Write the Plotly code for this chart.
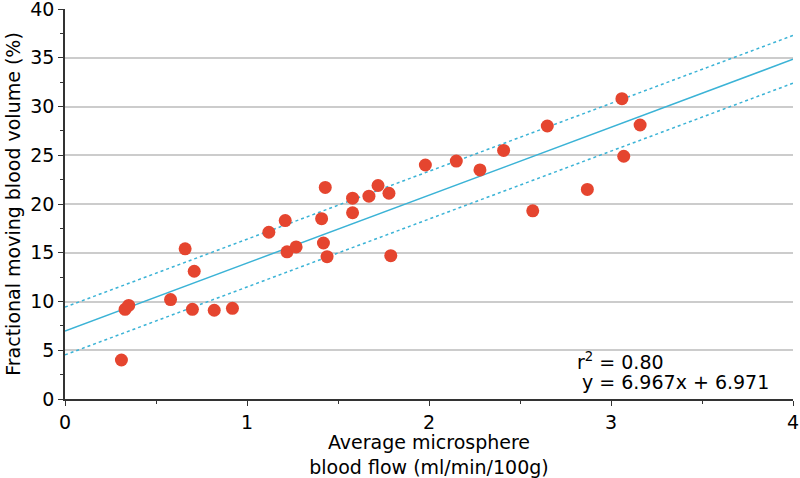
import plotly.graph_objects as go

# microsphere blood flow (ml/min/100g) vs fractional moving blood volume (%)
flow = [0.31, 0.33, 0.35, 0.58, 0.66, 0.71, 0.70, 0.82, 0.92,
        1.12, 1.21, 1.22, 1.27, 1.41, 1.42, 1.43, 1.44, 1.58, 1.58,
        1.67, 1.72, 1.78, 1.79, 1.98, 2.15, 2.28, 2.41, 2.57, 2.65,
        2.87, 3.06, 3.07, 3.16]
volume = [4.0, 9.2, 9.6, 10.2, 15.4, 13.1, 9.2, 9.1, 9.3,
          17.1, 18.3, 15.1, 15.6, 18.5, 16.0, 21.7, 14.6, 20.6, 19.1,
          20.8, 21.9, 21.1, 14.7, 24.0, 24.4, 23.5, 25.5, 19.3, 28.0,
          21.5, 30.8, 24.9, 28.1]

slope = 6.967
intercept = 6.971
band = 2.45
line_x = [0, 4]

fit_y = [slope * v + intercept for v in line_x]
upper_y = [y + band for y in fit_y]
lower_y = [y - band for y in fit_y]

font = dict(family="DejaVu Sans", size=19, color="black")
line_col = "#3bb3d6"
axis_col = "#333333"

fig = go.Figure()
fig.add_trace(go.Scatter(x=line_x, y=upper_y, mode="lines",
                         line=dict(color=line_col, width=1.5, dash="dot")))
fig.add_trace(go.Scatter(x=line_x, y=lower_y, mode="lines",
                         line=dict(color=line_col, width=1.5, dash="dot")))
fig.add_trace(go.Scatter(x=line_x, y=fit_y, mode="lines",
                         line=dict(color=line_col, width=1.5)))
fig.add_trace(go.Scatter(x=flow, y=volume, mode="markers",
                         marker=dict(color="#e5452f", size=13), cliponaxis=False))

fig.add_annotation(x=2.80, y=3.9, xref="x", yref="y", text="r<sup>2</sup> = 0.80",
                   showarrow=False, xanchor="left", yanchor="middle", font=font)
fig.add_annotation(x=2.83, y=1.7, xref="x", yref="y", text="y = 6.967x + 6.971",
                   showarrow=False, xanchor="left", yanchor="middle", font=font)

fig.update_layout(
    width=800, height=478,
    margin=dict(l=65, r=7, t=9, b=79),
    plot_bgcolor="white", paper_bgcolor="white",
    showlegend=False, font=font,
    xaxis=dict(range=[0, 4], dtick=1, showgrid=False, zeroline=False, automargin=False,
               showline=True, linecolor=axis_col, linewidth=1.5,
               ticks="outside", ticklen=5, tickcolor=axis_col, ticklabeloverflow="allow",
               tickfont=font,
               minor=dict(dtick=0.5, ticks="outside", ticklen=3, tickcolor=axis_col),
               title=dict(text="Average microsphere<br>blood flow (ml/min/100g)",
                          font=font, standoff=9)),
    yaxis=dict(range=[0, 40], dtick=5, showgrid=True, gridcolor="#cccccc", gridwidth=2,
               zeroline=False, showline=True, linecolor=axis_col, linewidth=1.5,
               automargin=False, ticklabeloverflow="allow",
               ticks="outside", ticklen=5, tickcolor=axis_col, tickfont=font,
               minor=dict(dtick=2.5, ticks="outside", ticklen=3, tickcolor=axis_col, showgrid=False),
               title=dict(text="Fractional moving blood volume (%)", font=font, standoff=5)),
)

# drop the default 8px body margin so the figure fills the window
fig.write_html("out.html", config={"displayModeBar": False},
               post_script="document.body.style.margin='0';")
